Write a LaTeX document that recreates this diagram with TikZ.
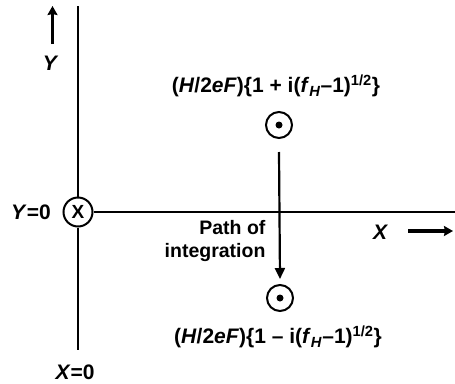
\documentclass[tikz,border=0pt]{standalone}
\usepackage{fontspec}
\setmainfont{Liberation Sans}
\usetikzlibrary{arrows.meta}

\begin{document}
\begin{tikzpicture}[
  x=1pt, y=-1pt,
  every node/.style={font=\fontsize{21}{23}\selectfont\bfseries},
  axis/.style={line width=2.2pt},
  pole/.style={draw, circle, line width=2pt, minimum size=26pt, inner sep=0pt},
  dir/.style={line width=3.6pt, -{Stealth[length=9pt, width=10pt, inset=1pt]}}
]
\useasboundingbox (0,0) rectangle (455,383);
% axes
\node[pole, minimum size=29pt, font=\fontsize{19}{21}\selectfont\bfseries] (orig) at (78,212) {X};
\coordinate (ytop) at (78,6);
\coordinate (ybot) at (78,350);
\coordinate (xend) at (455,212);
\draw[axis] (orig) -- (ytop);
\draw[axis] (orig) -- (ybot);
\draw[axis] (orig) -- (xend);
\node (ylab) at (50,63) {\itshape Y};
\node (y0) at (31,212) {\textit{Y}=0};
\node (x0) at (75,372) {\textit{X}=0};
\node (xlab) at (380,232) {\itshape X};
\coordinate (ya) at (52.5,44);
\coordinate (yb) at (52.5,6);
\draw[dir] (ya) -- (yb);
\coordinate (xa) at (408,231);
\coordinate (xb) at (453,231);
\draw[dir] (xa) -- (xb);
% poles
\node[pole] (upper) at (279,125) {};
\fill (upper.center) circle (3.5pt);
\node[pole] (lower) at (280,298) {};
\fill (lower.center) circle (3.5pt);
\node (ulab) at (276,86) {(\textit{H}/2\textit{eF})\{1 + i(\textit{f}\textsubscript{\textit{H}}--1)\textsuperscript{1/2}\}};
\node (llab) at (278,337) {(\textit{H}/2\textit{eF})\{1 -- i(\textit{f}\textsubscript{\textit{H}}--1)\textsuperscript{1/2}\}};
% path
\coordinate (pa) at (279,152);
\draw[axis, -{Triangle[length=11pt, width=10pt]}] (pa) -- ([yshift=5pt]lower.north);
\node[align=right, anchor=east, font=\fontsize{19.5}{23}\selectfont\bfseries] (plab) at (269,241) {Path of\\integration};
\end{tikzpicture}
\end{document}
